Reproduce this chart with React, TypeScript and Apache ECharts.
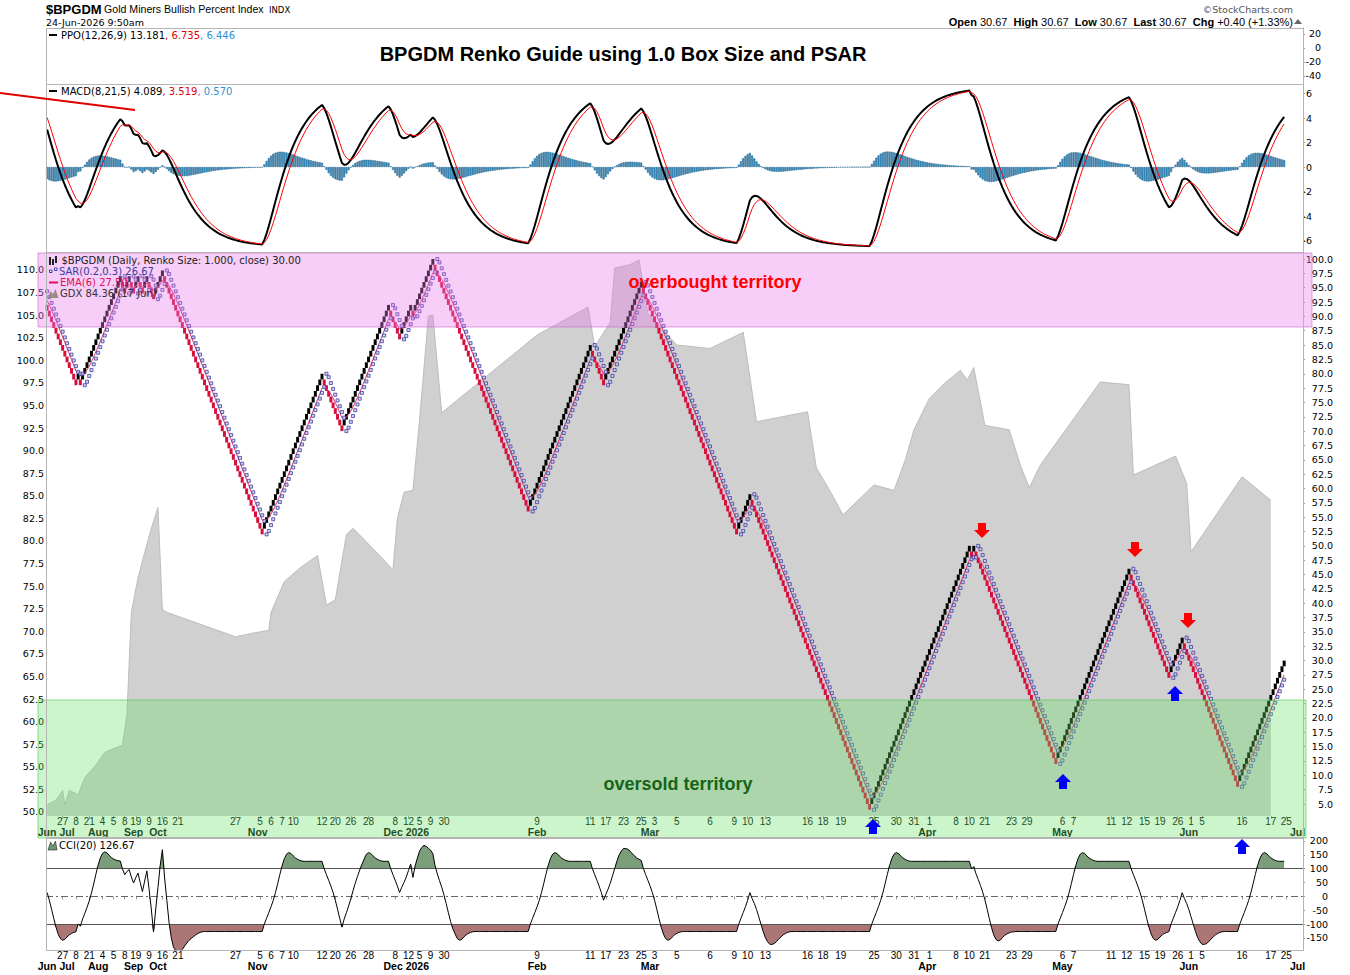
import React, { useEffect, useRef } from "react";
import * as echarts from "echarts";

// Renko swing levels (box size 1.0): extreme brick edge at each reversal.
// First two entries form the warm-up leg that precedes the visible range.
const RENKO_PIVOTS = [70, 97, 78, 80, 78, 97, 94, 97, 94, 97, 94, 97, 93, 98, 52, 80, 70, 92, 86, 92, 90, 100, 56, 85, 78, 96, 52, 59, 4, 50, 48, 50, 12, 46, 27, 34, 8, 30];
const HIDDEN_BRICKS = 31;
const SLOT_COUNT = 567;

// GDX (left scale) sampled at brick positions
const GDX_IDX = [0, 4, 7, 8, 10, 14, 17, 22, 26, 31, 34, 36, 38, 41, 44, 47, 50, 52, 54, 85, 95, 100, 101, 107, 114, 122, 126, 130, 135, 138, 150, 156, 158, 161, 165, 168, 172, 174, 178, 221, 244, 247, 254, 256, 263, 267, 271, 284, 299, 314, 320, 343, 347, 353, 359, 373, 382, 387, 391, 398, 405, 412, 415, 418, 423, 434, 439, 443, 448, 475, 488, 490, 509, 514, 516, 539, 552];
const GDX_VAL = [50.8, 51.3, 52.4, 50.8, 52.4, 51.9, 53.8, 55.2, 56.6, 57.1, 57.4, 60.7, 72.1, 75.9, 78.7, 81.4, 83.7, 72.4, 72.1, 69.4, 69.9, 70.1, 72.1, 75.5, 77, 78.4, 72.9, 73.5, 80.7, 81.4, 78.4, 76.8, 82.5, 85.4, 85.6, 93.4, 104.9, 105, 94.2, 102.8, 105.9, 101.5, 104.2, 110.2, 110.6, 111.1, 105.2, 101.7, 101.3, 103.1, 93.2, 94.3, 88.1, 85.6, 82.9, 86.2, 85.6, 88.9, 92.3, 95.8, 97.5, 98.9, 97.8, 99.2, 92.8, 92.3, 88.4, 85.9, 88.4, 97.6, 97.3, 87.3, 89.4, 86.4, 78.8, 87.1, 84.5];

const DAY_IDX = [7, 13, 19, 25, 30, 35, 40, 46, 52, 59, 85, 96, 101, 106, 111, 124, 130, 137, 145, 157, 163, 168, 173, 179, 221, 245, 252, 260, 268, 274, 284, 299, 310, 316, 324, 343, 350, 358, 373, 383, 391, 398, 410, 416, 423, 435, 442, 458, 463, 480, 487, 495, 502, 510, 516, 521, 539, 552, 559];
const DAY_TXT = ["27", "8", "21", "4", "5", "8", "19", "9", "16", "21", "27", "5", "6", "7", "10", "12", "20", "26", "28", "8", "12", "5", "9", "30", "9", "11", "17", "23", "25", "3", "5", "6", "9", "10", "13", "16", "18", "19", "25", "30", "31", "1", "8", "10", "21", "23", "29", "6", "7", "11", "12", "15", "19", "26", "1", "5", "16", "17", "25"];
const MONTH_IDX = [0, 9, 23, 39, 50, 95, 162, 221, 272, 397, 458, 515, 564];
const MONTH_TXT = ["Jun", "Jul", "Aug", "Sep", "Oct", "Nov", "Dec 2026", "Feb", "Mar", "Apr", "May", "Jun", "Jul"];

const RIGHT_TICKS = [5, 7.5, 10, 12.5, 15, 17.5, 20, 22.5, 25, 27.5, 30, 32.5, 35, 37.5, 40, 42.5, 45, 47.5, 50, 52.5, 55, 57.5, 60, 62.5, 65, 67.5, 70, 72.5, 75, 77.5, 80, 82.5, 85, 87.5, 90, 92.5, 95, 97.5, 100];
const LEFT_TICKS = [50, 52.5, 55, 57.5, 60, 62.5, 65, 67.5, 70, 72.5, 75, 77.5, 80, 82.5, 85, 87.5, 90, 92.5, 95, 97.5, 100, 102.5, 105, 107.5, 110];
const MACD_TICKS = [6, 4, 2, 0, -2, -4, -6];
const PPO_TICKS = [20, 0, -20, -40];
const CCI_TICKS = [200, 150, 100, 50, 0, -50, -100, -150];

const FONT = "DejaVu Sans";
const ARIAL = "Liberation Sans";

function buildBricks(p: number[]) {
  const lo: number[] = [];
  const dir: number[] = [];
  let s = p[0];
  for (let j = 1; j < p.length; j++) {
    const t = p[j];
    if (t > s) {
      for (let k = j === 1 ? s : s + 1; k <= t - 1; k++) { lo.push(k); dir.push(1); }
    } else {
      for (let k = j === 1 ? s - 1 : s - 2; k >= t; k--) { lo.push(k); dir.push(-1); }
    }
    s = t;
  }
  return { lo, dir };
}

function ema(a: number[], n: number) {
  const k = 2 / (n + 1);
  const out: number[] = [];
  let e = a[0];
  for (let i = 0; i < a.length; i++) {
    e = i === 0 ? a[0] : e + k * (a[i] - e);
    out.push(e);
  }
  return out;
}

function psar(high: number[], low: number[], step: number, maxAf: number) {
  const n = high.length;
  const out: number[] = new Array(n);
  let up = true;
  let af = step;
  let ep = high[0];
  let sar = low[0];
  out[0] = sar;
  for (let i = 1; i < n; i++) {
    let next = sar + af * (ep - sar);
    if (up) {
      next = Math.min(next, low[i - 1], i > 1 ? low[i - 2] : low[i - 1]);
      if (low[i] < next) { up = false; next = ep; ep = low[i]; af = step; }
      else if (high[i] > ep) { ep = high[i]; af = Math.min(af + step, maxAf); }
    } else {
      next = Math.max(next, high[i - 1], i > 1 ? high[i - 2] : high[i - 1]);
      if (high[i] > next) { up = true; next = ep; ep = high[i]; af = step; }
      else if (low[i] < ep) { ep = low[i]; af = Math.min(af + step, maxAf); }
    }
    sar = next;
    out[i] = sar;
  }
  return out;
}

function cci(tp: number[], n: number) {
  const out: (number | null)[] = [];
  for (let i = 0; i < tp.length; i++) {
    if (i < n - 1) { out.push(null); continue; }
    let s = 0;
    for (let j = i - n + 1; j <= i; j++) s += tp[j];
    const m = s / n;
    let d = 0;
    for (let j = i - n + 1; j <= i; j++) d += Math.abs(tp[j] - m);
    d /= n;
    out.push(d === 0 ? 0 : (tp[i] - m) / (0.015 * d));
  }
  return out;
}

function downArrow(cx: number, y0: number, color: string) {
  return {
    type: "polygon", z: 120, silent: true,
    shape: { points: [[cx - 4, y0], [cx + 4, y0], [cx + 4, y0 + 7], [cx + 8, y0 + 7], [cx, y0 + 15], [cx - 8, y0 + 7], [cx - 4, y0 + 7]] },
    style: { fill: color },
  };
}
function upArrow(cx: number, y0: number, color: string) {
  return {
    type: "polygon", z: 120, silent: true,
    shape: { points: [[cx, y0], [cx + 8, y0 + 8], [cx + 4, y0 + 8], [cx + 4, y0 + 15], [cx - 4, y0 + 15], [cx - 4, y0 + 8], [cx - 8, y0 + 8]] },
    style: { fill: color },
  };
}

function txt(x: number, y: number, text: string, extra: any = {}, rich?: any) {
  return {
    type: "text", x, y, z: 110, silent: true,
    style: Object.assign({ text, fontFamily: FONT, fontSize: 10, fill: "#000", verticalAlign: "middle", align: "left" }, extra, rich ? { rich } : {}),
  };
}

function makeOption() {
  const { lo, dir } = buildBricks(RENKO_PIVOTS);
  const close = lo.map((l, i) => (dir[i] > 0 ? l + 1 : l));
  const high = lo.map((l) => l + 1);
  const tp = lo.map((l, i) => (l + l + 1 + close[i]) / 3);
  const ema6 = ema(close, 6);
  const e8 = ema(close, 8);
  const e21 = ema(close, 21);
  const macd = e8.map((v, i) => v - e21[i]);
  const sig = ema(macd, 5);
  const hist = macd.map((v, i) => v - sig[i]);
  const sar = psar(high, lo, 0.2, 0.3);
  const cc = cci(tp, 20);
  const H = HIDDEN_BRICKS;
  const vLo = lo.slice(H);
  const vDir = dir.slice(H);
  const vEma = ema6.slice(H);
  const vSar = sar.slice(H);
  const vMacd = macd.slice(H);
  const vSig = sig.slice(H);
  const vHist = hist.slice(H);
  const vCci = cc.slice(H) as number[];

  const slots = Array.from({ length: SLOT_COUNT }, (_, i) => String(i));
  const dayText: string[] = new Array(SLOT_COUNT).fill("");
  DAY_IDX.forEach((ix, k) => (dayText[ix] = DAY_TXT[k]));
  const monText: string[] = new Array(SLOT_COUNT).fill("");
  MONTH_IDX.forEach((ix, k) => (monText[ix] = MONTH_TXT[k]));

  const hiddenX = (g: number) => ({ type: "category", gridIndex: g, data: slots, boundaryGap: true, show: false });
  const dayAxis = (g: number) => ({
    type: "category", gridIndex: g, data: slots, boundaryGap: true, position: "bottom",
    axisLine: { show: false },
    axisTick: { show: true, alignWithLabel: true, interval: (i: number) => !!dayText[i], length: 3, lineStyle: { color: "#999" } },
    axisLabel: { interval: (i: number) => !!dayText[i], formatter: (v: string) => dayText[+v], fontFamily: ARIAL, fontSize: 10, lineHeight: 9, color: "#000", margin: 1 },
    splitLine: { show: false },
  });
  const monAxis = (g: number) => ({
    type: "category", gridIndex: g, data: slots, boundaryGap: true, position: "bottom", offset: 11,
    axisLine: { show: false }, axisTick: { show: false },
    axisLabel: { interval: (i: number) => !!monText[i], formatter: (v: string) => monText[+v], fontFamily: ARIAL, fontSize: 10.5, lineHeight: 10, fontWeight: "bold", color: "#000", margin: 0 },
    splitLine: { show: false },
  });
  const rightAxis = (g: number, min: number, max: number, ticks: number[], margin: number, fmt: (v: number) => string) => ({
    type: "value", gridIndex: g, position: "right", min, max,
    splitLine: { show: false },
    axisLine: { show: true, lineStyle: { color: "#b0b0b0" } },
    axisTick: { show: true, customValues: ticks, length: 2, lineStyle: { color: "#999" } },
    axisLabel: { customValues: ticks, formatter: fmt, align: "right", margin, fontFamily: FONT, fontSize: 9.5, color: "#000" },
  });

  const intFmt = (v: number) => String(Math.round(v));
  const oneFmt = (v: number) => v.toFixed(1);

  const n = vLo.length;
  const base100 = new Array(n).fill(100);
  const baseM100 = new Array(n).fill(-100);
  const posArea = vCci.map((c) => Math.max(c - 100, 0));
  const negArea = vCci.map((c) => Math.min(c + 100, 0));

  const graphic: any[] = [
    // panel frames
    { type: "rect", z: 105, silent: true, shape: { x: 46.5, y: 28.5, width: 1257, height: 56 }, style: { fill: "none", stroke: "#b4b4b4", lineWidth: 1 } },
    { type: "rect", z: 105, silent: true, shape: { x: 46.5, y: 84.5, width: 1257, height: 168 }, style: { fill: "none", stroke: "#b4b4b4", lineWidth: 1 } },
    { type: "rect", z: 105, silent: true, shape: { x: 46.5, y: 252.5, width: 1257, height: 585 }, style: { fill: "none", stroke: "#b4b4b4", lineWidth: 1 } },
    { type: "rect", z: 105, silent: true, shape: { x: 46.5, y: 838.5, width: 1257, height: 112 }, style: { fill: "none", stroke: "#b4b4b4", lineWidth: 1 } },
    // bands
    { type: "rect", z: 90, silent: true, shape: { x: 38, y: 253, width: 1274, height: 74 }, style: { fill: "rgba(232,120,232,0.36)", stroke: "rgba(200,90,200,0.55)", lineWidth: 1 } },
    { type: "rect", z: 90, silent: true, shape: { x: 38, y: 700, width: 1268, height: 138 }, style: { fill: "rgba(100,225,100,0.33)", stroke: "rgba(70,200,70,0.6)", lineWidth: 1 } },
    // header
    txt(46, 9, "$BPGDM", { fontFamily: ARIAL, fontSize: 13, fontWeight: "bold" }),
    txt(104, 9, "Gold Miners Bullish Percent Index", { fontFamily: ARIAL, fontSize: 10.6 }),
    txt(269, 9.5, "INDX", { fontSize: 8.5 }),
    txt(46, 22, "24-Jun-2026 9:50am", { fontSize: 9.5 }),
    txt(1293, 9, "©StockCharts.com", { fontSize: 9.5, fill: "#555", align: "right" }),
    txt(1293, 22, "{b|Open} 30.67  {b|High} 30.67  {b|Low} 30.67  {b|Last} 30.67  {b|Chg} +0.40 (+1.33%)",
      { fontFamily: ARIAL, fontSize: 11, align: "right" },
      { b: { fontFamily: ARIAL, fontSize: 11, fontWeight: "bold", fill: "#000" } }),
    { type: "polygon", z: 110, silent: true, shape: { points: [[1294, 24], [1302, 24], [1298, 19]] }, style: { fill: "#666" } },
    // title
    txt(623, 54, "BPGDM Renko Guide using 1.0 Box Size and PSAR", { fontFamily: ARIAL, fontSize: 20, fontWeight: "bold", align: "center" }),
    // PPO legend
    { type: "rect", z: 110, silent: true, shape: { x: 49, y: 34, width: 8, height: 2 }, style: { fill: "#000" } },
    txt(61, 35, "PPO(12,26,9) 13.181{r|, 6.735}{b|, 6.446}", {}, { r: { fontFamily: FONT, fontSize: 10, fill: "#e00000" }, b: { fontFamily: FONT, fontSize: 10, fill: "#2e8fd3" } }),
    // MACD legend
    { type: "rect", z: 110, silent: true, shape: { x: 49, y: 90, width: 8, height: 2 }, style: { fill: "#000" } },
    txt(61, 91, "MACD(8,21,5) 4.089{r|, 3.519}{b|, 0.570}", {}, { r: { fontFamily: FONT, fontSize: 10, fill: "#e00000" }, b: { fontFamily: FONT, fontSize: 10, fill: "#2e8fd3" } }),
    // main legend
    { type: "rect", z: 110, silent: true, shape: { x: 49, y: 257, width: 2, height: 8 }, style: { fill: "#222" } },
    { type: "rect", z: 110, silent: true, shape: { x: 52, y: 259, width: 2, height: 6 }, style: { fill: "#222" } },
    { type: "rect", z: 110, silent: true, shape: { x: 55, y: 256, width: 2, height: 7 }, style: { fill: "#222" } },
    txt(61.5, 260.5, "$BPGDM (Daily, Renko Size: 1.000, close) 30.00", { fill: "#222" }),
    { type: "rect", z: 110, silent: true, shape: { x: 49.5, y: 270, width: 2.5, height: 2.5 }, style: { fill: "#fff", stroke: "#3c3ca0", lineWidth: 1 } },
    { type: "rect", z: 110, silent: true, shape: { x: 54.5, y: 268, width: 2.5, height: 2.5 }, style: { fill: "#fff", stroke: "#3c3ca0", lineWidth: 1 } },
    txt(59, 271.5, "SAR(0.2,0.3) 26.67", { fill: "#3b3b9e" }),
    { type: "rect", z: 110, silent: true, shape: { x: 49, y: 281.5, width: 9, height: 2 }, style: { fill: "#e0105a" } },
    txt(60, 282.5, "EMA(6) 27.50", { fill: "#dd1155" }),
    { type: "polygon", z: 110, silent: true, shape: { points: [[48, 298], [50.5, 291], [53, 294], [55.5, 289], [58.5, 298]] }, style: { fill: "#9b8a8a" } },
    txt(60, 293, "GDX 84.36 (17 Jun)", { fill: "#333" }),
    // CCI legend
    { type: "polygon", z: 110, silent: true, shape: { points: [[48, 850], [50.5, 842], [53, 846], [55.5, 841], [57, 850]] }, style: { fill: "#6f986f", stroke: "#222", lineWidth: 0.6 } },
    txt(59, 845.5, "CCI(20) 126.67", {}),
    // annotations
    txt(715, 282, "overbought territory", { fontFamily: ARIAL, fontSize: 18, fontWeight: "bold", fill: "#ff0000", align: "center" }),
    txt(678, 784, "oversold territory", { fontFamily: ARIAL, fontSize: 18, fontWeight: "bold", fill: "#156417", align: "center" }),
    { type: "line", z: 120, silent: true, shape: { x1: 0, y1: 93, x2: 135, y2: 110 }, style: { stroke: "#e00000", lineWidth: 2 } },
    downArrow(982, 523, "#ff0000"),
    downArrow(1135, 542, "#ff0000"),
    downArrow(1188, 613, "#ff0000"),
    upArrow(873, 819, "#0000ff"),
    upArrow(1063, 774, "#0000ff"),
    upArrow(1175, 686, "#0000ff"),
    upArrow(1242, 839, "#0000ff"),
  ];

  return {
    animation: false,
    backgroundColor: "#ffffff",
    textStyle: { fontFamily: FONT },
    grid: [
      { left: 46, right: 47, top: 28, height: 56 },
      { left: 46, right: 47, top: 84, height: 168 },
      { left: 46, right: 47, top: 253, height: 563 },
      { left: 46, right: 47, top: 838, height: 112 },
    ],
    xAxis: [hiddenX(0), hiddenX(1), dayAxis(2), monAxis(2), dayAxis(3), monAxis(3)],
    yAxis: [
      rightAxis(0, -51.43, 28.57, PPO_TICKS, 18, intFmt),
      rightAxis(1, -6.94, 6.78, MACD_TICKS, 9, intFmt),
      rightAxis(2, 2.91, 101.05, RIGHT_TICKS, 30, oneFmt),
      {
        type: "value", gridIndex: 2, position: "left", min: 49.556, max: 111.88,
        splitLine: { show: false },
        axisLine: { show: true, lineStyle: { color: "#b0b0b0" } },
        axisTick: { show: false },
        axisLabel: { customValues: LEFT_TICKS, formatter: oneFmt, margin: 2, fontFamily: FONT, fontSize: 9.5, color: "#000" },
      },
      rightAxis(3, -193.3, 210.8, CCI_TICKS, 25, intFmt),
    ],
    graphic: { elements: graphic },
    series: [
      {
        name: "GDX", type: "line", xAxisIndex: 2, yAxisIndex: 3, z: 1, silent: true, symbol: "none",
        data: GDX_IDX.map((x, k) => [x, GDX_VAL[k]]),
        lineStyle: { color: "#bdbdbd", width: 1 },
        areaStyle: { color: "#d0d0d0", opacity: 1 },
      },
      {
        name: "Renko", type: "custom", xAxisIndex: 2, yAxisIndex: 2, z: 3, silent: true,
        encode: { x: 0, y: 1 },
        data: vLo.map((l, i) => [i, l, vDir[i]]),
        renderItem: (params: any, api: any) => {
          const i = api.value(0);
          const l = api.value(1);
          const d = api.value(2);
          const a = api.coord([i, l]);
          const b = api.coord([i, l + 1]);
          const w = api.size([1, 0])[0] * 1.35;
          return {
            type: "rect",
            shape: { x: a[0] - w / 2, y: b[1], width: w, height: a[1] - b[1] },
            style: { fill: d > 0 ? "#000000" : "#d60f3e" },
          };
        },
      },
      {
        name: "EMA6", type: "line", xAxisIndex: 2, yAxisIndex: 2, z: 4, silent: true, symbol: "none",
        data: vEma, lineStyle: { color: "#e4336a", width: 1 },
      },
      {
        name: "SAR", type: "scatter", xAxisIndex: 2, yAxisIndex: 2, z: 5, silent: true,
        symbol: "rect", symbolSize: 3,
        data: vSar.map((v, i) => [i, v]),
        itemStyle: { color: "#cfd0f2", borderColor: "#3c3ca0", borderWidth: 1 },
      },
      {
        name: "Hist", type: "bar", xAxisIndex: 1, yAxisIndex: 1, z: 2, silent: true,
        data: vHist, barCategoryGap: "10%",
        itemStyle: { color: "#3d93c2", borderColor: "#22608a", borderWidth: 0.5 },
      },
      {
        name: "MACD", type: "line", xAxisIndex: 1, yAxisIndex: 1, z: 4, silent: true, symbol: "none",
        data: vMacd, lineStyle: { color: "#000", width: 2 },
      },
      {
        name: "Signal", type: "line", xAxisIndex: 1, yAxisIndex: 1, z: 5, silent: true, symbol: "none",
        data: vSig, lineStyle: { color: "#ff0000", width: 1 },
      },
      {
        name: "b100", type: "line", xAxisIndex: 4, yAxisIndex: 4, stack: "pos", stackStrategy: "all", silent: true, symbol: "none",
        data: base100, lineStyle: { opacity: 0 }, z: 1,
      },
      {
        name: "posA", type: "line", xAxisIndex: 4, yAxisIndex: 4, stack: "pos", stackStrategy: "all", silent: true, symbol: "none",
        data: posArea, lineStyle: { opacity: 0 }, areaStyle: { color: "#7a9e7a", opacity: 1 }, z: 1,
      },
      {
        name: "bm100", type: "line", xAxisIndex: 4, yAxisIndex: 4, stack: "neg", stackStrategy: "all", silent: true, symbol: "none",
        data: baseM100, lineStyle: { opacity: 0 }, z: 1,
      },
      {
        name: "negA", type: "line", xAxisIndex: 4, yAxisIndex: 4, stack: "neg", stackStrategy: "all", silent: true, symbol: "none",
        data: negArea, lineStyle: { opacity: 0 }, areaStyle: { color: "#ad7676", opacity: 1 }, z: 1,
      },
      {
        name: "CCI", type: "line", xAxisIndex: 4, yAxisIndex: 4, z: 5, silent: true, symbol: "none",
        data: vCci, lineStyle: { color: "#000", width: 1 },
        markLine: {
          silent: true, symbol: ["none", "none"], label: { show: false },
          lineStyle: { color: "#555", width: 1, type: "solid" },
          data: [
            { yAxis: 100 },
            { yAxis: -100 },
            { yAxis: 0, lineStyle: { color: "#666", width: 1, type: [7, 3, 2, 3] } },
          ],
        },
      },
    ],
  };
}

export default function App() {
  const ref = useRef<HTMLDivElement>(null);
  useEffect(() => {
    if (!ref.current) return;
    const chart = echarts.init(ref.current, null, { renderer: "svg" });
    chart.setOption(makeOption() as any);
    return () => chart.dispose();
  }, []);
  return <div ref={ref} style={{ position: "absolute", left: 0, top: 0, width: 1350, height: 975, background: "#fff" }} />;
}
